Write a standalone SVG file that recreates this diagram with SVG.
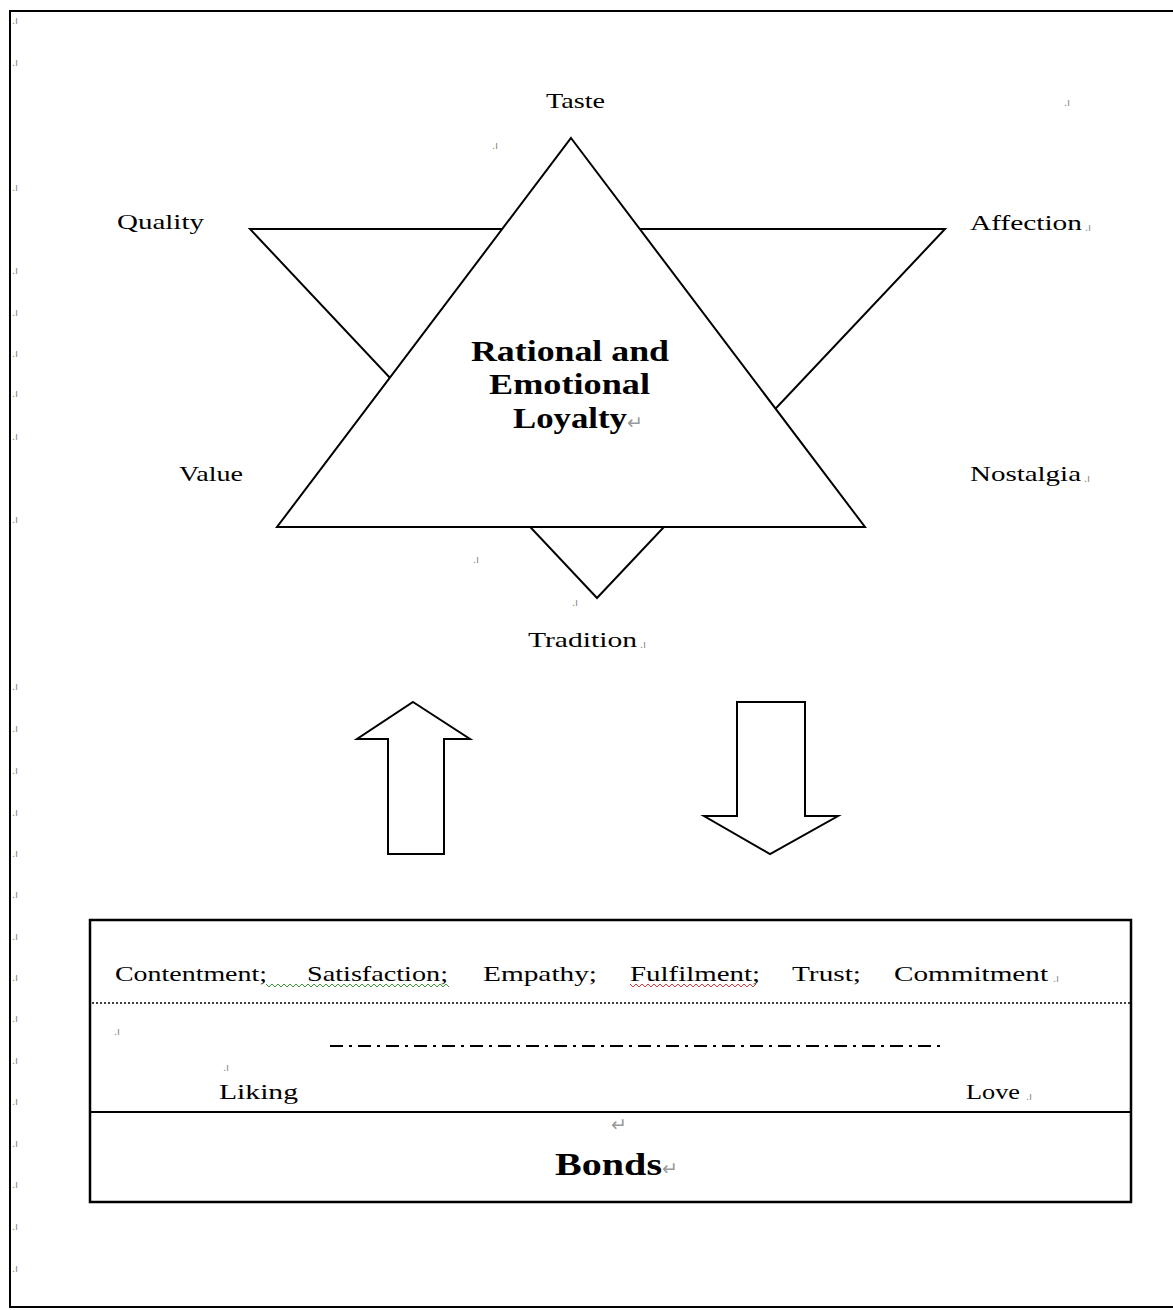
<svg xmlns="http://www.w3.org/2000/svg" width="1173" height="1310" viewBox="0 0 1173 1310">
<style>
.ln{fill:#fff;stroke:#000;stroke-width:2;stroke-linejoin:miter}
.lb{font-family:"Liberation Serif","Times New Roman",serif;font-size:22px;fill:#000}
.row{font-family:"Liberation Serif","Times New Roman",serif;font-size:21px;fill:#000}
.bd{font-family:"Liberation Serif","Times New Roman",serif;font-size:30px;font-weight:bold;fill:#000}
.mk{font-family:"Liberation Sans",Arial,sans-serif;font-size:11px;fill:#888}
.rt{font-family:"DejaVu Sans",sans-serif;font-size:19px;fill:#999}
</style>
<rect x="0" y="0" width="1173" height="1310" fill="#fff"/>
<g id="frame">
<path d="M1173,11 H10 V1307 H1173" fill="none" stroke="#000" stroke-width="2"/>
</g>
<g id="margin-marks">
<text class="mk" x="12" y="24">.ı</text>
<text class="mk" x="12" y="66">.ı</text>
<text class="mk" x="12" y="191">.ı</text>
<text class="mk" x="12" y="274">.ı</text>
<text class="mk" x="12" y="316">.ı</text>
<text class="mk" x="12" y="357">.ı</text>
<text class="mk" x="12" y="397">.ı</text>
<text class="mk" x="12" y="440">.ı</text>
<text class="mk" x="12" y="523">.ı</text>
<text class="mk" x="12" y="690">.ı</text>
<text class="mk" x="12" y="732">.ı</text>
<text class="mk" x="12" y="774">.ı</text>
<text class="mk" x="12" y="816">.ı</text>
<text class="mk" x="12" y="857">.ı</text>
<text class="mk" x="12" y="898">.ı</text>
<text class="mk" x="12" y="940">.ı</text>
<text class="mk" x="12" y="981">.ı</text>
<text class="mk" x="12" y="1022">.ı</text>
<text class="mk" x="12" y="1064">.ı</text>
<text class="mk" x="12" y="1105">.ı</text>
<text class="mk" x="12" y="1147">.ı</text>
<text class="mk" x="12" y="1188">.ı</text>
<text class="mk" x="12" y="1230">.ı</text>
<text class="mk" x="12" y="1272">.ı</text>
<text class="mk" x="492" y="149">.ı</text>
<text class="mk" x="1064" y="106">.ı</text>
<text class="mk" x="473" y="563">.ı</text>
<text class="mk" x="572" y="606">.ı</text>
</g>
<g id="star">
<polygon id="down-triangle" class="ln" points="250,229 945,229 597,598"/>
<polygon id="up-triangle" class="ln" points="571,138 865,527 277,527"/>
</g>
<g id="center-label">
<text class="bd" x="471" y="361" textLength="198" lengthAdjust="spacingAndGlyphs">Rational and</text>
<text class="bd" x="489" y="394" textLength="161" lengthAdjust="spacingAndGlyphs">Emotional</text>
<text class="bd" x="513" y="428" textLength="114" lengthAdjust="spacingAndGlyphs">Loyalty</text>
<text class="rt" x="627" y="429">↵</text>
</g>
<g id="taste"><text class="lb" x="546" y="108" textLength="59" lengthAdjust="spacingAndGlyphs">Taste</text></g>
<g id="quality"><text class="lb" x="117" y="229" textLength="87" lengthAdjust="spacingAndGlyphs">Quality</text></g>
<g id="affection"><text class="lb" x="970" y="230" textLength="112" lengthAdjust="spacingAndGlyphs">Affection</text><text class="mk" x="1085" y="231">.ı</text></g>
<g id="value"><text class="lb" x="179" y="481" textLength="64" lengthAdjust="spacingAndGlyphs">Value</text></g>
<g id="nostalgia"><text class="lb" x="970" y="481" textLength="111" lengthAdjust="spacingAndGlyphs">Nostalgia</text><text class="mk" x="1084" y="482">.ı</text></g>
<g id="tradition"><text class="lb" x="528" y="647" textLength="109" lengthAdjust="spacingAndGlyphs">Tradition</text><text class="mk" x="640" y="648">.ı</text></g>
<g id="connectors">
<polygon id="up-arrow" class="ln" points="413,702 470,739 444,739 444,854 388,854 388,739 357,739"/>
<polygon id="down-arrow" class="ln" points="737,702 805,702 805,816 838,816 770,854 704,816 737,816"/>
</g>
<g id="bonds-box">
<rect x="90" y="920" width="1041" height="282" fill="none" stroke="#000" stroke-width="2.5"/>
<line x1="90" y1="1112" x2="1131" y2="1112" stroke="#000" stroke-width="2"/>
<line x1="92" y1="1003" x2="1130" y2="1003" stroke="#000" stroke-width="1.5" stroke-dasharray="2,2"/>
<line x1="330" y1="1046" x2="943" y2="1046" stroke="#000" stroke-width="2" stroke-dasharray="13,6,3,6"/>
<text class="row" x="115" y="981" textLength="152" lengthAdjust="spacingAndGlyphs">Contentment;</text>
<text class="row" x="307" y="981" textLength="141" lengthAdjust="spacingAndGlyphs">Satisfaction;</text>
<text class="row" x="483" y="981" textLength="114" lengthAdjust="spacingAndGlyphs">Empathy;</text>
<text class="row" x="630" y="981" textLength="130" lengthAdjust="spacingAndGlyphs">Fulfilment;</text>
<text class="row" x="792" y="981" textLength="69" lengthAdjust="spacingAndGlyphs">Trust;</text>
<text class="row" x="894" y="981" textLength="154" lengthAdjust="spacingAndGlyphs">Commitment</text>
<text class="mk" x="1053" y="982">.ı</text>
<path d="M266,984 l3,3 l3,-3 l3,3 l3,-3 l3,3 l3,-3 l3,3 l3,-3 l3,3 l3,-3 l3,3 l3,-3 l3,3 l3,-3 l3,3 l3,-3 l3,3 l3,-3 l3,3 l3,-3 l3,3 l3,-3 l3,3 l3,-3 l3,3 l3,-3 l3,3 l3,-3 l3,3 l3,-3 l3,3 l3,-3 l3,3 l3,-3 l3,3 l3,-3 l3,3 l3,-3 l3,3 l3,-3 l3,3 l3,-3 l3,3 l3,-3 l3,3 l3,-3 l3,3 l3,-3 l3,3 l3,-3 l3,3 l3,-3 l3,3 l3,-3 l3,3 l3,-3 l3,3 l3,-3 l3,3 l3,-3 l3,3" fill="none" stroke="#3a9a3a" stroke-width="1"/>
<path d="M630,984 l3,3 l3,-3 l3,3 l3,-3 l3,3 l3,-3 l3,3 l3,-3 l3,3 l3,-3 l3,3 l3,-3 l3,3 l3,-3 l3,3 l3,-3 l3,3 l3,-3 l3,3 l3,-3 l3,3 l3,-3 l3,3 l3,-3 l3,3 l3,-3 l3,3 l3,-3 l3,3 l3,-3 l3,3 l3,-3 l3,3 l3,-3 l3,3 l3,-3 l3,3 l3,-3 l3,3 l3,-3 l3,3 l3,-3" fill="none" stroke="#d83a3a" stroke-width="1"/>
<text class="mk" x="114" y="1035">.ı</text>
<text class="mk" x="223" y="1071">.ı</text>
<text class="lb" x="219" y="1099" textLength="79" lengthAdjust="spacingAndGlyphs">Liking</text>
<text class="lb" x="966" y="1099" textLength="54" lengthAdjust="spacingAndGlyphs">Love</text>
<text class="mk" x="1026" y="1100">.ı</text>
<text class="rt" x="611" y="1131">↵</text>
<text class="bd" x="555" y="1175" textLength="107" lengthAdjust="spacingAndGlyphs" style="font-size:31px">Bonds</text>
<text class="rt" x="662" y="1175">↵</text>
</g>
</svg>
